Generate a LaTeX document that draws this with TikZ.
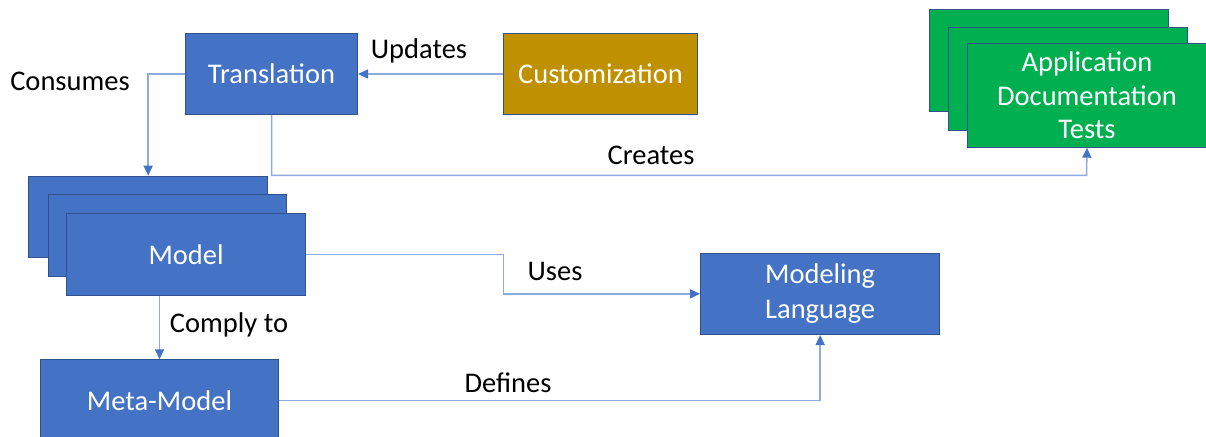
\documentclass[tikz,border=0pt]{standalone}
\usepackage{fontspec}
\setmainfont{Carlito}
\usetikzlibrary{arrows.meta}
\definecolor{boxblue}{RGB}{68,114,196}
\definecolor{boxedge}{RGB}{47,82,143}
\definecolor{boxgold}{RGB}{191,144,0}
\definecolor{boxgreen}{RGB}{0,176,80}
\definecolor{linkblue}{RGB}{143,170,220}
\tikzset{
  box/.style={draw=boxedge, line width=1pt, fill=boxblue, text=white,
    anchor=north west, inner sep=0pt, align=center,
    font=\fontsize{28.5}{34}\selectfont},
  conn/.style={draw=linkblue, line width=1.5pt,
    -{Triangle[length=10pt, width=9pt, color=boxblue]}},
  lbl/.style={text=black, inner sep=0pt, font=\fontsize{28.5}{34}\selectfont},
}
\begin{document}
\begin{tikzpicture}[x=1pt, y=-1pt]
\useasboundingbox (0,0) rectangle (1206,436);
\clip (0,0) rectangle (1206,436);

% top row
\node[box, minimum width=172pt, minimum height=81pt] (trans) at (185,33) {Translation};
\node[box, fill=boxgold, minimum width=194.5pt, minimum height=81pt] (cust) at (502.7,33) {Customization};

% stacked models
\node[box, minimum width=238.7pt, minimum height=81.3pt] (model3) at (28.3,175.7) {};
\node[box, minimum width=238.7pt, minimum height=81.3pt] (model2) at (47.7,194.3) {};
\node[box, minimum width=238.7pt, minimum height=81.3pt] (model) at (66.3,213.3) {Model};

% meta-model and language
\node[box, minimum width=237.4pt, minimum height=81.3pt] (meta) at (40.3,359.3) {Meta-Model};
\node[box, minimum width=239.3pt, minimum height=81.3pt] (lang) at (700,252.7) {Modeling\\[1pt]Language};

% stacked generated artefacts
\node[box, fill=boxgreen, minimum width=238.7pt, minimum height=102pt] (app3) at (929,9) {};
\node[box, fill=boxgreen, minimum width=238.7pt, minimum height=102.6pt] (app2) at (948.3,27.3) {};
\node[box, fill=boxgreen, minimum width=238.4pt, minimum height=103.4pt] (app) at (967.3,43.3) {Application\\[-0.5pt]Documentation\\[-0.5pt]Tests};

% bend points
\coordinate (createsTurn) at (1086.5,175.3);
\coordinate (usesTurn) at (503.3,270);

% connectors
\draw[conn] (cust.west) -- (trans.east);
\draw[conn] (trans.west) -| (model3.north);
\draw[conn] (trans.south) |- (createsTurn) -- (app.south);
\draw[conn] (model.east) -| (usesTurn) |- (lang.west);
\draw[conn] (model.south -| meta.north) -- (meta.north);
\draw[conn] (meta.east) -| (lang.south);

% connector labels
\node[lbl] (lConsumes) at (70,81) {Consumes};
\node[lbl] (lUpdates) at (419,51) {Updates};
\node[lbl] (lCreates) at (651,155) {Creates};
\node[lbl] (lUses) at (555,271.5) {Uses};
\node[lbl] (lComply) at (229,325) {Comply to};
\node[lbl] (lDefines) at (508,383) {Defines};
\end{tikzpicture}
\end{document}
